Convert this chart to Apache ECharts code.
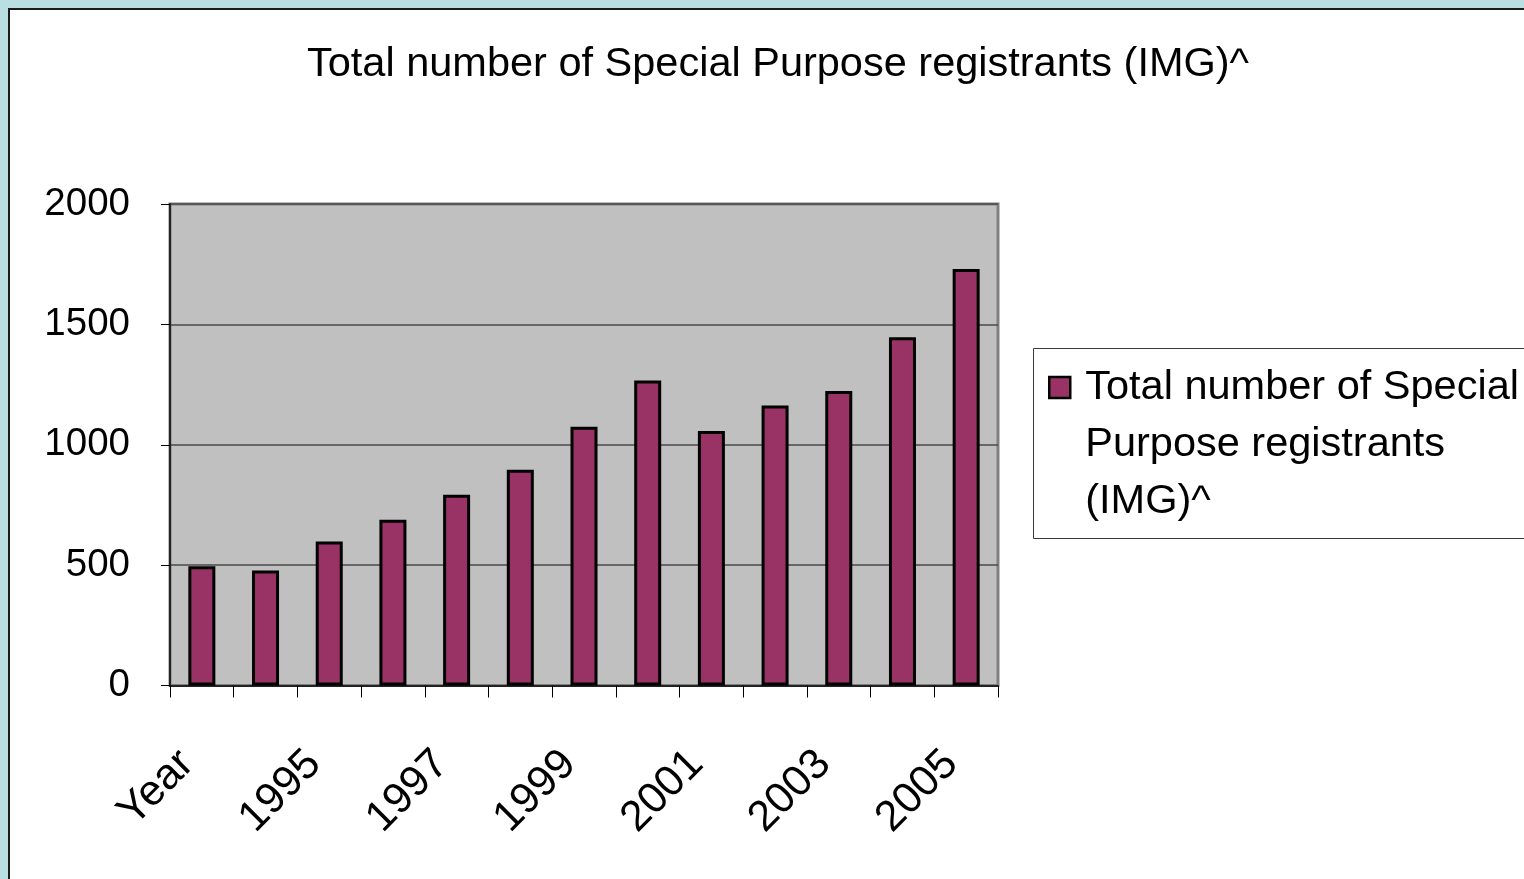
<!DOCTYPE html>
<html>
<head>
<meta charset="utf-8">
<title>Special Purpose registrants (IMG)</title>
<script src="https://cdn.jsdelivr.net/npm/echarts@6/dist/echarts.min.js"></script>
<style>
  html, body { margin: 0; padding: 0; background: #B9DFE3; }
  #chart { width: 1524px; height: 879px; }
</style>
</head>
<body>
<div id="chart"></div>
<script>
// Registrant counts per year
const categories = ['Year', '1994', '1995', '1996', '1997', '1998', '1999',
                    '2000', '2001', '2002', '2003', '2004', '2005'];
const registrants = [495, 478, 598, 688, 792, 896, 1075, 1267, 1057, 1163, 1223, 1447, 1730];
const yTicks = [0, 500, 1000, 1500, 2000];
const seriesName = 'Total number of Special Purpose registrants (IMG)^';
const legendLines = ['Total number of Special', 'Purpose registrants', '(IMG)^'];

const FONT = "'Liberation Sans', Arial, sans-serif";

const chart = echarts.init(document.getElementById('chart'), null, { renderer: 'canvas' });

chart.setOption({
  backgroundColor: '#B9DFE3',
  animation: false,
  graphic: [
    {
      // white chart panel with its dark frame
      type: 'rect', z: -10, silent: true,
      shape: { x: 9, y: 9, width: 1540, height: 900 },
      style: { fill: '#ffffff', stroke: '#1c1c1c', lineWidth: 2 }
    },
    {
      // legend frame
      type: 'rect', z: -5, silent: true,
      shape: { x: 1033.5, y: 348.5, width: 600, height: 190 },
      style: { fill: '#ffffff', stroke: '#3a3a3a', lineWidth: 1 }
    }
  ],
  title: {
    text: seriesName,
    left: 307,
    top: 44,
    padding: 0,
    textStyle: { fontFamily: FONT, fontSize: 41.5, fontWeight: 'normal', color: '#000' }
  },
  legend: {
    left: 1043,
    top: 240,
    padding: 5,
    itemWidth: 21,
    itemHeight: 21,
    icon: 'rect',
    selectedMode: false,
    data: [seriesName],
    formatter: () => '\n\n' + legendLines.join('\n'),
    itemStyle: { borderColor: '#000', borderWidth: 2.5 },
    textStyle: {
      fontFamily: FONT, fontSize: 41.5, lineHeight: 57, color: '#000',
      padding: [0, 0, 0, 10]
    }
  },
  grid: {
    left: 170, right: 526, top: 204, bottom: 193.5,
    show: true,
    backgroundColor: '#C0C0C0',
    borderColor: '#808080',
    borderWidth: 3
  },
  xAxis: {
    type: 'category',
    data: categories,
    boundaryGap: true,
    axisLine: { show: true, lineStyle: { color: '#222', width: 2 } },
    axisTick: { show: true, length: 12, interval: 0, lineStyle: { color: '#000', width: 1 } },
    axisLabel: {
      interval: 1,
      rotate: 45,
      margin: 57,
      padding: [0, 21, 0, 0],
      fontFamily: FONT, fontSize: 43, color: '#000'
    },
    splitLine: { show: false }
  },
  yAxis: {
    type: 'value',
    min: yTicks[0],
    max: yTicks[yTicks.length - 1],
    interval: yTicks[1] - yTicks[0],
    axisLine: { show: true, lineStyle: { color: '#222', width: 2 } },
    axisTick: { show: true, length: 9, lineStyle: { color: '#000', width: 1 } },
    axisLabel: {
      margin: 40, fontFamily: FONT, fontSize: 38.5, color: '#000',
      formatter: v => String(v)
    },
    splitLine: { show: true, lineStyle: { color: '#4a4a4a', width: 1.5 } }
  },
  series: [{
    name: seriesName,
    type: 'bar',
    data: registrants,
    barWidth: 27,
    itemStyle: { color: '#993366', borderColor: '#000', borderWidth: 3 }
  }]
});
</script>
</body>
</html>
